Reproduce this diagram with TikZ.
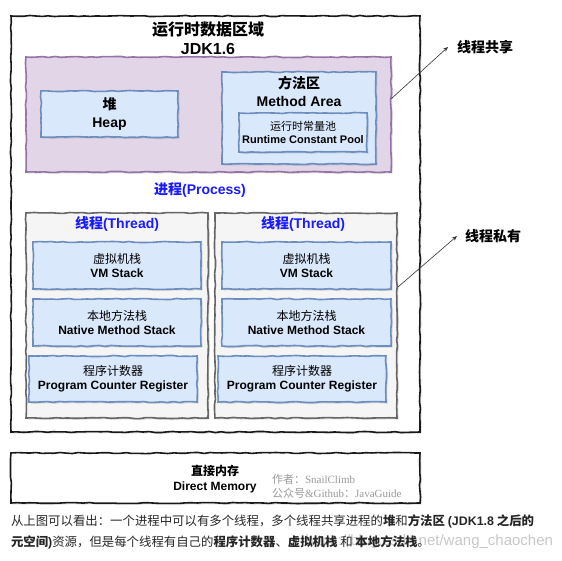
\documentclass[tikz,border=0pt]{standalone}
\usepackage{fontspec}
\setmainfont{Liberation Sans}
\newfontfamily\cjk{Noto Sans CJK SC}
\newfontfamily\serifen{Liberation Serif}
\usetikzlibrary{shadows,decorations.pathmorphing,arrows.meta}
\definecolor{bluefill}{HTML}{DAE8FC}
\definecolor{bluedraw}{HTML}{6C8EBF}
\definecolor{purpfill}{HTML}{E1D5E7}
\definecolor{purpdraw}{HTML}{9673A6}
\definecolor{grayfill}{HTML}{F5F5F5}
\definecolor{graydraw}{HTML}{666666}
\definecolor{titleblue}{HTML}{1A1AFF}
\definecolor{authorgray}{HTML}{9A9A9A}
\newcommand\zh[1]{{\cjk #1}}
\begin{document}
\pgfmathsetseed{7}
\begin{tikzpicture}[x=1pt,y=-1pt,
  sketch/.style={decorate,decoration={random steps,segment length=6pt,amplitude=0.55pt}},
  box/.style={sketch, draw, line width=1.6pt, anchor=center, inner sep=0pt, outer sep=0pt,
    drop shadow={shadow xshift=1.6pt,shadow yshift=-1.6pt,opacity=0.25}},
  bluebox/.style={box, fill=bluefill, draw=bluedraw, align=center},
  purplebox/.style={box, fill=purpfill, draw=purpdraw},
  threadbox/.style={box, fill=grayfill, draw=graydraw},
  blackbox/.style={box, fill=white, draw=black!90},
  lbl/.style={inner sep=0pt, outer sep=0pt, align=center},
  f16/.style={font=\bfseries\fontsize{16}{19}\selectfont},
  f14/.style={font=\bfseries\fontsize{14}{18}\selectfont},
  f12/.style={font=\fontsize{12}{14}\selectfont},
  captxt/.style={font=\fontsize{12.4}{15}\selectfont},
  ptr/.style={-{Stealth[length=5pt,width=4pt]}, line width=0.6pt, draw=black!80},
]
\useasboundingbox (0,0) rectangle (562,560);

% outer runtime data area
\node[blackbox, minimum width=409pt, minimum height=416pt] (outer) at (215.5,224) {};
\node[lbl, f16] (title) at (208,30) {\zh{运行时数据区域}};
\node[lbl, f16] (jdk) at (208,49) {JDK1.6};

% shared area
\node[purplebox, minimum width=365pt, minimum height=115pt] (purple) at (208.5,114.5) {};
\node[bluebox, minimum width=137pt, minimum height=46pt, f14] (heap) at (109.5,114) {\zh{堆}\\Heap};
\node[bluebox, minimum width=154pt, minimum height=92pt] (method) at (299,118) {};
\node[lbl, f14] (methodlbl) at (299,91) {\zh{方法区}\\Method Area};
\node[bluebox, minimum width=128pt, minimum height=39pt, font=\fontsize{11}{13.5}\selectfont] (rcp) at (303,132.5) {\zh{运行时常量池}\\\textbf{Runtime Constant Pool}};

\node[lbl, f14, text=titleblue] (process) at (200,190) {\zh{进程}(Process)};

% thread 1
\node[threadbox, minimum width=182pt, minimum height=205pt] (th1) at (117,315.5) {};
\node[lbl, f14, text=titleblue] (th1lbl) at (117,224) {\zh{线程}(Thread)};
\node[bluebox, minimum width=168pt, minimum height=47pt, f12] (vm1) at (117,265.5) {\zh{虚拟机栈}\\\textbf{VM Stack}};
\node[bluebox, minimum width=168pt, minimum height=47pt, f12] (nms1) at (117,322.5) {\zh{本地方法栈}\\\textbf{Native Method Stack}};
\node[bluebox, minimum width=168pt, minimum height=46pt, f12] (pc1) at (113,379) {\zh{程序计数器}\\\textbf{Program Counter Register}};

% thread 2
\node[threadbox, minimum width=182pt, minimum height=205pt] (th2) at (306,315.5) {};
\node[lbl, f14, text=titleblue] (th2lbl) at (303,224) {\zh{线程}(Thread)};
\node[bluebox, minimum width=169pt, minimum height=47pt, f12] (vm2) at (306.5,265.5) {\zh{虚拟机栈}\\\textbf{VM Stack}};
\node[bluebox, minimum width=169pt, minimum height=47pt, f12] (nms2) at (306.5,322.5) {\zh{本地方法栈}\\\textbf{Native Method Stack}};
\node[bluebox, minimum width=168pt, minimum height=46pt, f12] (pc2) at (302,379) {\zh{程序计数器}\\\textbf{Program Counter Register}};

% side labels and pointers
\node[lbl, f14, anchor=west] (shared) at (457,47) {\zh{线程共享}};
\node[lbl, f14, anchor=west] (private) at (465,236) {\zh{线程私有}};
\draw[ptr] ([yshift=15.5pt]purple.east) -- ([xshift=-9pt]shared.west);
\draw[ptr] ([yshift=28.5pt,xshift=1pt]th2.east) -- ([xshift=-8pt]private.west);

% direct memory
\node[blackbox, minimum width=409pt, minimum height=50pt] (direct) at (215.5,478) {};
\node[lbl, font=\bfseries\fontsize{12}{15}\selectfont] (directlbl) at (215,479.5) {\zh{直接内存}\\Direct Memory};
\node[lbl, anchor=west, text=authorgray, font=\fontsize{11}{14}\selectfont, align=left] (author) at (272,486) {\zh{作者：}{\serifen SnailClimb}\\\zh{公众号}{\serifen \&Github}\zh{：}{\serifen JavaGuide}};

% watermark (drawn under the caption)
\node[lbl, anchor=east, text=black!22, font=\fontsize{15}{17}\selectfont] (wm) at (553,542) {https://blog.csdn.net/wang\_chaochen};

% caption text
\node[lbl, anchor=west, captxt, text=black!85] (cap1) at (11,521) {\cjk 从上图可以看出：一个进程中可以有多个线程，多个线程共享进程的\textbf{堆}和\textbf{方法区 {\normalfont\bfseries (JDK1.8} 之后的}};
\node[lbl, anchor=west, captxt, text=black!85] (cap2) at (11,542) {\cjk \textbf{元空间{\normalfont\bfseries )}}资源，但是每个线程有自己的\textbf{程序计数器}、\textbf{虚拟机栈} 和 \textbf{本地方法栈}。};
\end{tikzpicture}
\end{document}
